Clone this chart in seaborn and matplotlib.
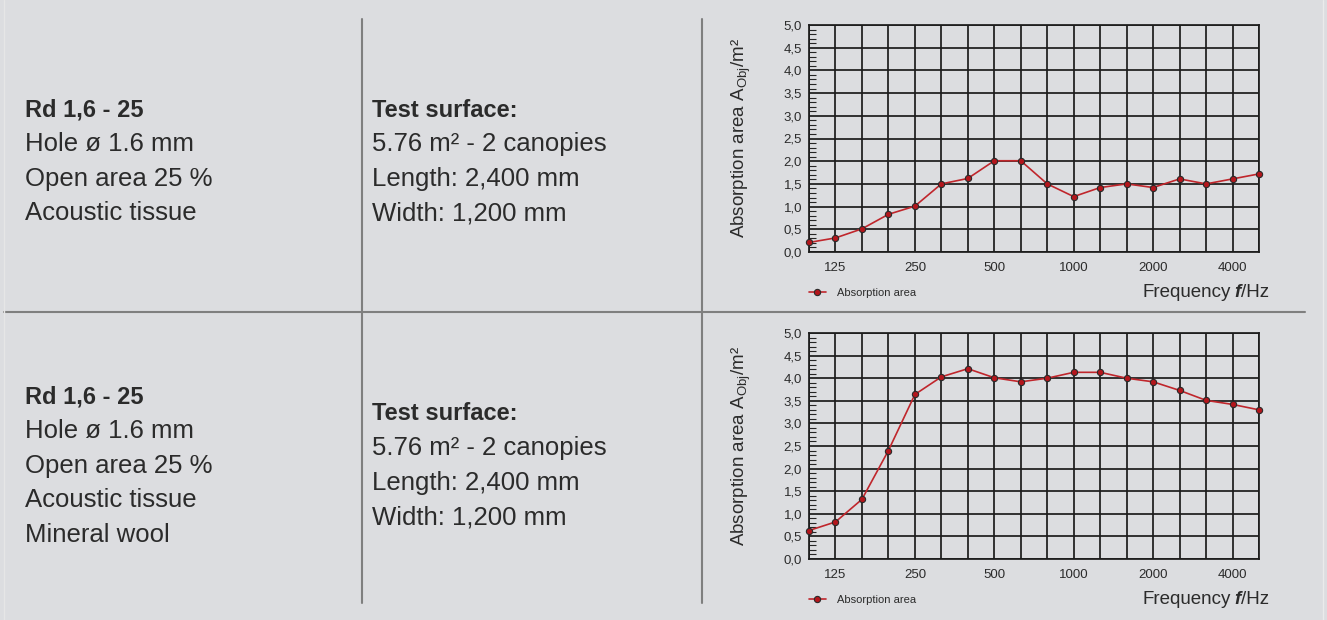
import numpy as np
import pandas as pd
import matplotlib
matplotlib.use("Agg")
import matplotlib.pyplot as plt
import seaborn as sns
from matplotlib.lines import Line2D
from matplotlib.ticker import MultipleLocator, FuncFormatter

# third-octave bands and measured absorption area (m2)
freqs = ["100", "125", "160", "200", "250", "315", "400", "500", "630",
         "800", "1000", "1250", "1600", "2000", "2500", "3150", "4000", "5000"]
labeled_freqs = ["125", "250", "500", "1000", "2000", "4000"]
top_values = [0.21, 0.31, 0.51, 0.83, 1.01, 1.50, 1.62, 2.01, 2.01,
              1.50, 1.22, 1.42, 1.50, 1.42, 1.61, 1.50, 1.61, 1.72]
bottom_values = [0.63, 0.82, 1.32, 2.40, 3.64, 4.03, 4.21, 4.01, 3.92,
                 4.00, 4.13, 4.13, 4.00, 3.92, 3.73, 3.51, 3.42, 3.30]

top_product = ["Rd 1,6 - 25", "Hole ø 1.6 mm", "Open area 25 %", "Acoustic tissue"]
bottom_product = ["Rd 1,6 - 25", "Hole ø 1.6 mm", "Open area 25 %", "Acoustic tissue", "Mineral wool"]
surface = ["Test surface:", "5.76 m² - 2 canopies", "Length: 2,400 mm", "Width: 1,200 mm"]

sns.set_style("white")
plt.rcParams["font.family"] = ["Liberation Sans", "DejaVu Sans"]
plt.rcParams["mathtext.fontset"] = "custom"
plt.rcParams["mathtext.rm"] = "Liberation Sans"
plt.rcParams["mathtext.it"] = "Liberation Sans:italic"
plt.rcParams["mathtext.bf"] = "Liberation Sans:bold"

BG = "#dcdde0"
TXT = "#2b2b2b"
RED = "#c0262c"
W, H = 1327, 620

fig = plt.figure(figsize=(W / 100, H / 100), dpi=100, facecolor=BG)


def fx(px):
    return px / W


def fy(py):
    return 1 - py / H


def draw_chart(left, top, right, bottom, values):
    ax = fig.add_axes([fx(left), fy(bottom), fx(right - left), fy(top) - fy(bottom)])
    ax.set_facecolor(BG)
    df = pd.DataFrame({"pos": np.arange(len(freqs)), "value": values})
    sns.lineplot(data=df, x="pos", y="value", ax=ax, color=RED, lw=1.2,
                 marker="o", markersize=4.5, markerfacecolor="#b3161c",
                 markeredgecolor="#2a2a2a", markeredgewidth=0.8,
                 label="Absorption area", zorder=5, clip_on=False)
    ax.set_xlim(0, len(freqs) - 1)
    ax.set_ylim(0, 5)
    ax.set_xticks(np.arange(len(freqs)))
    ax.set_xticklabels([f if f in labeled_freqs else "" for f in freqs])
    ax.yaxis.set_major_locator(MultipleLocator(0.5))
    ax.yaxis.set_minor_locator(MultipleLocator(0.1))
    ax.yaxis.set_major_formatter(FuncFormatter(lambda v, _: f"{v:.1f}".replace(".", ",")))
    ax.grid(True, which="major", color="#1c1c1c", lw=1.25)
    ax.tick_params(axis="x", length=0, pad=7, labelsize=9.5, labelcolor=TXT)
    ax.tick_params(axis="y", which="major", length=3, width=1, direction="out",
                   pad=2, labelsize=9.5, labelcolor=TXT)
    ax.tick_params(axis="y", which="minor", length=5, width=0.8, direction="in", left=True)
    for s in ax.spines.values():
        s.set_color("#1c1c1c")
        s.set_linewidth(1.25)
    ax.set_xlabel("")
    ax.set_ylabel("")
    ax.text(-0.15, 0.5, "Absorption area A$_{\\mathrm{Obj}}$/m²", rotation=90,
            ha="center", va="center", transform=ax.transAxes, fontsize=13.5, color=TXT)
    ax.legend(loc="center left", bbox_to_anchor=(0.0, -0.18), frameon=False,
              fontsize=8, handlelength=1.5, handletextpad=1.0,
              borderaxespad=0, borderpad=0, labelcolor=TXT)

    # "Frequency f/Hz" with bold italic f
    y = -0.2
    renderer = fig.canvas.get_renderer()
    t3 = ax.text(1.022, y, "/Hz", ha="right", va="baseline", transform=ax.transAxes,
                 fontsize=13.5, color=TXT)
    x3 = ax.transAxes.inverted().transform((t3.get_window_extent(renderer).x0, 0))[0]
    t2 = ax.text(x3, y, "f", ha="right", va="baseline", transform=ax.transAxes,
                 fontsize=13.5, color=TXT, fontweight="bold", fontstyle="italic")
    x2 = ax.transAxes.inverted().transform((t2.get_window_extent(renderer).x0 - 4, 0))[0]
    ax.text(x2, y, "Frequency", ha="right", va="baseline", transform=ax.transAxes,
            fontsize=13.5, color=TXT)
    return ax


draw_chart(809, 25, 1259, 252, top_values)
draw_chart(809, 333, 1259, 559, bottom_values)

# separators
SEP = "#7f7f7f"
fig.add_artist(Line2D([fx(4), fx(1305)], [fy(311.5), fy(311.5)], color=SEP, lw=1.5))
for xs in (362, 702):
    fig.add_artist(Line2D([fx(xs), fx(xs)], [fy(19), fy(603)], color=SEP, lw=1.5))
fig.add_artist(Line2D([fx(1323), fx(1323)], [0, 1], color="#ebebeb", lw=1))
fig.add_artist(Line2D([fx(4), fx(4)], [0, 1], color="#e6e6e6", lw=1))


def text_block(x, y0, lines):
    for i, line in enumerate(lines):
        bold = i == 0
        fig.text(fx(x), fy(y0 + i * 34.4), line, ha="left", va="center",
                 fontsize=17 if bold else 18.5, color=TXT,
                 fontweight="bold" if bold else "normal")


text_block(25, 110, top_product)
text_block(372, 110, surface)
text_block(25, 397, bottom_product)
text_block(372, 414, surface)

fig.savefig("out.png", dpi=100, facecolor=BG)
